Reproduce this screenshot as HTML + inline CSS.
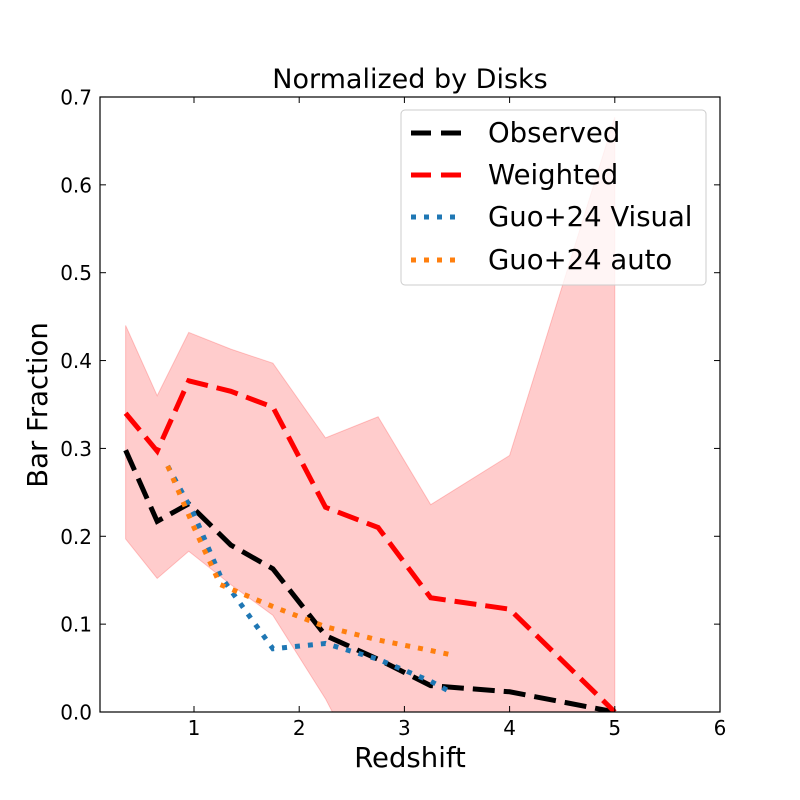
<!DOCTYPE html>
<html><head><meta charset="utf-8"><style>
html,body{margin:0;padding:0;background:#fff;width:800px;height:800px;overflow:hidden}
svg{display:block;font-family:"DejaVu Sans","Liberation Sans",sans-serif}
</style></head><body>
<svg id="chart" width="800" height="800">
<defs><clipPath id="clip"><rect x="100" y="97" width="620" height="615"/></clipPath></defs>
<text x="410" y="88" font-size="27" text-anchor="middle">Normalized by Disks</text>
<g id="plot" clip-path="url(#clip)"></g>
<rect x="100" y="97" width="620" height="615" fill="none" stroke="#000" stroke-width="1.2"/>
<g id="axes"></g>
<text x="410" y="767" font-size="27.5" text-anchor="middle">Redshift</text>
<text transform="translate(47,405) rotate(-90)" font-size="27.5" text-anchor="middle">Bar Fraction</text>
<g>
<rect x="401" y="110" width="305" height="175" rx="4" fill="#fff" fill-opacity="0.8" stroke="#ccc"/>
<line x1="411" y1="133" x2="461" y2="133" stroke="#000" stroke-width="5" stroke-dasharray="20,10"/>
<text x="488" y="142" font-size="27.5">Observed</text>
<line x1="411" y1="175" x2="461" y2="175" stroke="#f00" stroke-width="5" stroke-dasharray="20,10"/>
<text x="488" y="184" font-size="27.5">Weighted</text>
<line x1="411" y1="217" x2="461" y2="217" stroke="#1f77b4" stroke-width="5" stroke-dasharray="5,8"/>
<text x="488" y="226" font-size="27.5">Guo+24 Visual</text>
<line x1="411" y1="260" x2="461" y2="260" stroke="#ff7f0e" stroke-width="5" stroke-dasharray="5,8"/>
<text x="488" y="269" font-size="27.5">Guo+24 auto</text>
</g>
</svg>
<script>
const zBins=[0.35,0.65,0.95,1.35,1.75,2.25,2.75,3.25,4,5];
const observed=[0.298,0.217,0.237,0.19,0.163,0.087,0.06,0.03,0.023,0];
const weighted=[0.34,0.297,0.377,0.365,0.347,0.233,0.21,0.13,0.117,0];
const upper=[0.44,0.36,0.432,0.413,0.397,0.312,0.336,0.236,0.292,0.677];
const lower=[0.197,0.152,0.183,0.145,0.11,0.015,-0.1,-0.15,-0.2,-0.3];
const guoZ=[0.75,1.0,1.25,1.75,2.25,2.75,3.25,3.45];
const guoVisual=[0.28,0.225,0.155,0.072,0.078,0.06,0.035,0.022];
const guoAuto=[0.28,0.21,0.145,0.12,0.097,0.082,0.07,0.065];
const xTicks=[1,2,3,4,5,6];
const yTicks=[0,0.1,0.2,0.3,0.4,0.5,0.6,0.7];
const xs=z=>88.8+105.2*z;
const ys=v=>712-878.6*v;
const NS='http://www.w3.org/2000/svg';
const plot=document.getElementById('plot'),axes=document.getElementById('axes');
function mk(tag,attrs,parent){const e=document.createElementNS(NS,tag);for(const k in attrs)e.setAttribute(k,attrs[k]);parent.appendChild(e);return e;}
let d='M'+zBins.map((z,i)=>xs(z)+','+ys(upper[i])).join('L');
for(let i=zBins.length-1;i>=0;i--)d+='L'+xs(zBins[i])+','+ys(lower[i]);
const band=mk('path',{d:d+'Z',fill:'#ff0000','fill-opacity':0.2,stroke:'#ff0000','stroke-opacity':0.2},plot);


function line(xv,yv,color,dash,name){const p=mk('polyline',{points:xv.map((z,i)=>xs(z)+','+ys(yv[i])).join(' '),fill:'none',stroke:color,'stroke-width':5,'stroke-dasharray':dash},plot);

}
line(zBins,observed,'#000','22,9','observed-line');
line(zBins,weighted,'#f00','22,9','weighted-line');
line(guoZ,guoVisual,'#1f77b4','5,8','guo-visual-line');
line(guoZ,guoAuto,'#ff7f0e','5,8','guo-auto-line');
xTicks.forEach(t=>{const x=xs(t);
mk('line',{x1:x,y1:712,x2:x,y2:706,stroke:'#000'},axes);mk('line',{x1:x,y1:97,x2:x,y2:103,stroke:'#000'},axes);
const tx=mk('text',{x:x,y:735,'font-size':20,'text-anchor':'middle'},axes);tx.textContent=t;

});
yTicks.forEach(t=>{const y=ys(t);
mk('line',{x1:100,y1:y,x2:106,y2:y,stroke:'#000'},axes);mk('line',{x1:720,y1:y,x2:714,y2:y,stroke:'#000'},axes);
const tx=mk('text',{x:92,y:y+7.5,'font-size':20,'text-anchor':'end'},axes);tx.textContent=t.toFixed(1);

});
</script>
</body></html>
